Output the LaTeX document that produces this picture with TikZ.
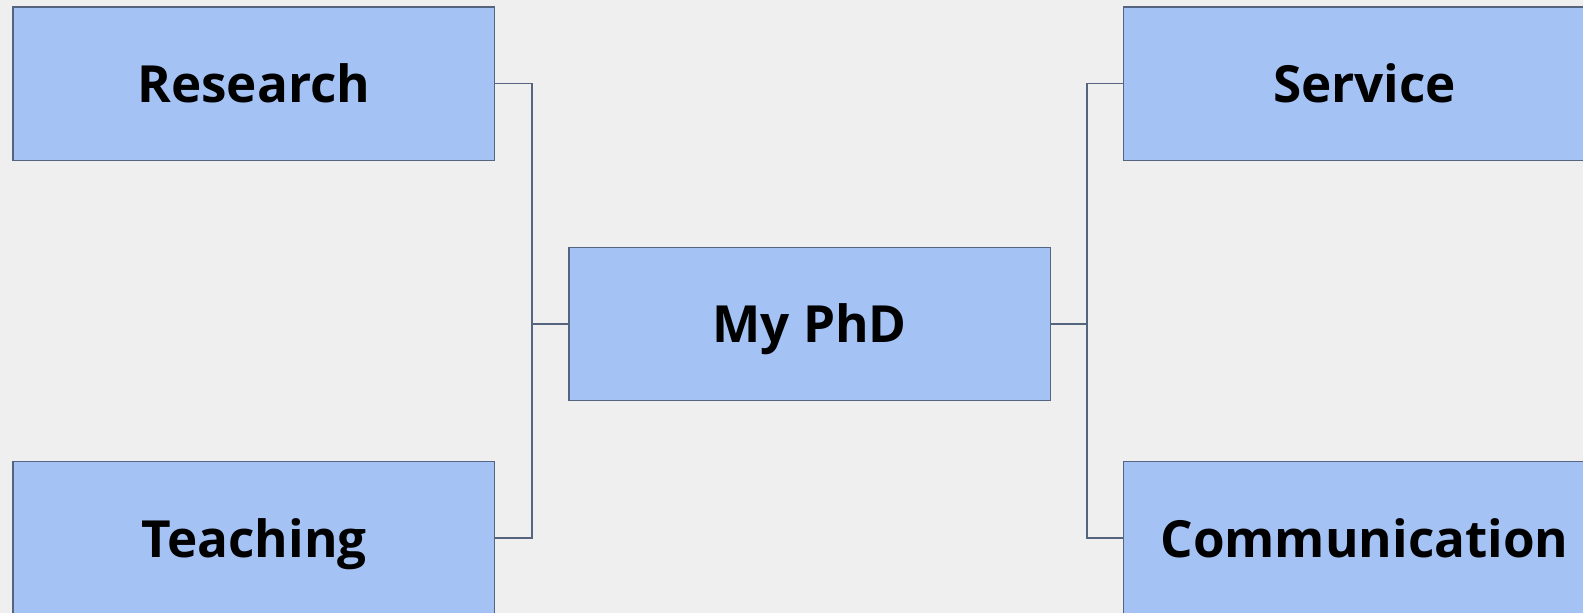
\documentclass[tikz,border=0pt]{standalone}
\usepackage{fontspec}
\setmainfont{Open Sans}
\definecolor{bg}{HTML}{EFEFEF}
\definecolor{boxfill}{HTML}{A4C2F4}
\definecolor{boxline}{HTML}{56657F}
\begin{document}
\begin{tikzpicture}[x=0.5pt,y=-0.5pt,
  card/.style={draw=boxline, fill=boxfill, line width=0.7pt, minimum width=240.8pt, minimum height=76.75pt, inner sep=0pt, text height=19pt, text depth=0pt, font=\fontsize{25.6pt}{30pt}\selectfont\bfseries, text=black},
  link/.style={draw=boxline, line width=0.7pt}]
\clip (0,0) rectangle (1583,613);
\fill[bg] (0,0) rectangle (1583,613);
\useasboundingbox (0,0) rectangle (1583,613);
\node[card] (research) at (253.9,83.8) {Research};
\node[card] (teaching) at (253.9,538.2) {Teaching};
\node[card] (phd) at (809.7,324) {My PhD};
\node[card] (service) at (1364.5,83.8) {Service};
\node[card] (comm) at (1364.5,538.2) {Communication};
\coordinate (lj) at (532,324);
\coordinate (rj) at (1087,324);
\draw[link] (research.east) -| (lj);
\draw[link] (teaching.east) -| (lj);
\draw[link] (lj) -- (phd.west);
\draw[link] (service.west) -| (rj);
\draw[link] (comm.west) -| (rj);
\draw[link] (rj) -- (phd.east);
\end{tikzpicture}
\end{document}
